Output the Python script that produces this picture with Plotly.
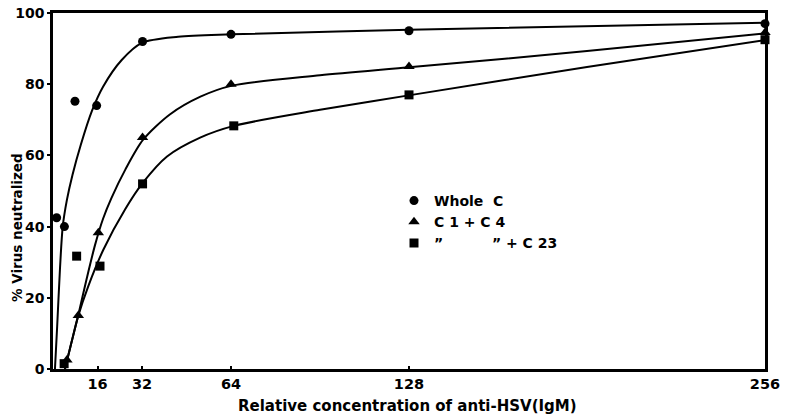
import plotly.graph_objects as go

# Measured data points
whole_x = [1.3, 4.1, 7.9, 15.7, 32.2, 64, 128, 256]
whole_y = [42.5, 40, 75.2, 74, 92, 94, 95, 97]
c14_x = [5, 9.1, 16.3, 32.2, 64, 128, 256]
c14_y = [2.5, 15, 38.3, 65, 80, 85, 94.5]
c23_x = [4, 8.5, 16.9, 32.2, 65, 128, 256]
c23_y = [1.5, 31.7, 28.9, 52, 68.3, 77, 92.5]

# Fitted curves
whole_cx = [0.7, 1.5, 2.5, 3.5, 5, 7, 10, 14, 18, 24.7, 32, 45, 64, 128, 256]
whole_cy = [0, 12, 28, 40, 47.5, 54.5, 63, 72.5, 79.3, 86.8, 91.6, 93.3, 94, 95.3, 97.3]
c14_cx = [4.3, 6.5, 9.1, 12, 15.1, 18, 21, 26, 32.4, 42, 53, 64.4, 96, 129, 192, 256]
c14_cy = [0, 7, 15.2, 25, 34.8, 42.2, 48, 56, 64.4, 71.5, 76.5, 79.6, 82.5, 84.8, 89.3, 94.3]
c23_cx = [4.3, 6.5, 9.1, 12.7, 18.1, 25.9, 32.4, 41, 52.9, 65, 96, 129, 192, 256]
c23_cy = [0, 7, 15, 23.3, 33.5, 44.8, 52.4, 59.7, 65, 68.3, 72.8, 77, 84.8, 92.4]

x_ticks = [16, 32, 64, 128, 256]
y_ticks = [0, 20, 40, 60, 80, 100]

names = ["Whole  C", "C 1 + C 4", "\u201d          \u201d + C 23"]

FONT = "DejaVu Sans"
L, R, T, B = 53, 20, 13, 48
W, H = 785, 417
pw, ph = W - L - R, H - T - B
y0 = H - B  # pixel row of the x axis

fig = go.Figure()
for cx, cy in [(whole_cx, whole_cy), (c14_cx, c14_cy), (c23_cx, c23_cy)]:
    fig.add_trace(go.Scatter(x=cx, y=cy, mode="lines",
                             line=dict(shape="spline", smoothing=0.8, color="black", width=2),
                             showlegend=False, hoverinfo="skip", cliponaxis=False))

for x, y, sym, sz, nm in [(whole_x, whole_y, "circle", 9, names[0]),
                          (c14_x, c14_y, "triangle-up", 10, names[1]),
                          (c23_x, c23_y, "square", 9, names[2])]:
    fig.add_trace(go.Scatter(x=x, y=y, mode="markers", name=nm,
                             marker=dict(symbol=sym, size=sz, color="black"),
                             cliponaxis=False))

fig.update_layout(
    width=W, height=H,
    margin=dict(l=L, r=R, t=T, b=B),
    paper_bgcolor="white", plot_bgcolor="white",
    font=dict(family=FONT, color="black", size=13, weight="bold"),
    legend=dict(x=(394 - L) / pw, y=(y0 - 185) / ph, xanchor="left", yanchor="top",
                font=dict(size=14, weight="bold"), itemwidth=30, tracegroupgap=0,
                bgcolor="rgba(0,0,0,0)"),
    annotations=[
        dict(text="Relative concentration of anti-HSV(IgM)", xref="paper", yref="paper",
             x=(407 - L) / pw, y=-(406 - y0) / ph, xanchor="center", yanchor="middle",
             showarrow=False, font=dict(size=15, weight="bold")),
        dict(text="% Virus neutralized", xref="paper", yref="paper",
             x=-(L - 17) / pw, y=(y0 - 228) / ph, xanchor="center", yanchor="middle",
             textangle=-90, showarrow=False, font=dict(size=13.5, weight="bold")),
    ],
)
fig.update_xaxes(range=[0, 256], tickvals=x_ticks, ticktext=[str(v) for v in x_ticks],
                 automargin=False,
                 showgrid=False, zeroline=False, showline=True, linecolor="black", linewidth=2.5,
                 mirror=True, ticks="inside", ticklen=3, tickwidth=1.5, tickcolor="black",
                 tickfont=dict(size=14.5, weight="bold"))
fig.update_yaxes(range=[0, 100], tickvals=y_ticks, automargin=False,
                 showgrid=False, zeroline=False, showline=True, linecolor="black", linewidth=2.5,
                 mirror=True, ticks="outside", ticklen=3, tickwidth=1.5, tickcolor="black",
                 tickfont=dict(size=14, weight="bold"))

fig.write_html("out.html")
